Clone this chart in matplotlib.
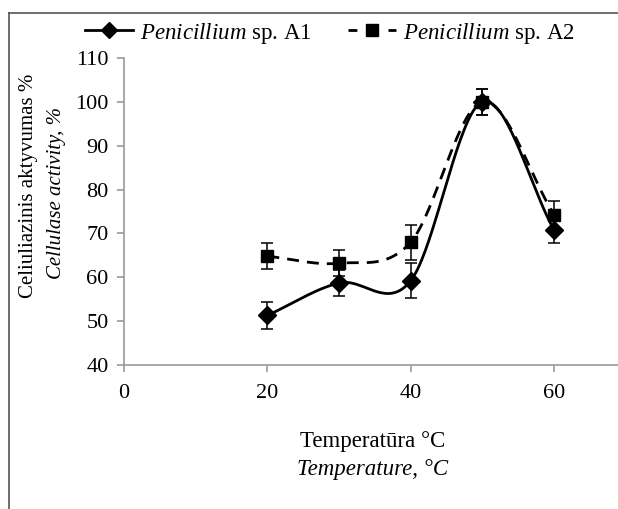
import numpy as np
import matplotlib
matplotlib.use("Agg")
import matplotlib.pyplot as plt
from matplotlib.lines import Line2D

plt.rcParams['font.family'] = ['Liberation Serif', 'DejaVu Serif']
plt.rcParams['mathtext.fontset'] = 'custom'
plt.rcParams['mathtext.rm'] = 'Liberation Serif'
plt.rcParams['mathtext.it'] = 'Liberation Serif:italic'

temps = [20, 30, 40, 50, 60]
a1 = [51.3, 58.7, 59.2, 100.0, 70.8]
a1_err = [3.0, 3.0, 4.0, 3.0, 3.0]
a2 = [64.8, 63.2, 68.0, 100.0, 74.3]
a2_err = [3.0, 3.0, 4.0, 3.0, 3.0]
xticks = [0, 20, 40, 60]
yticks = [40, 50, 60, 70, 80, 90, 100, 110]


def smooth(x, y, n=40):
    x = np.asarray(x, float); y = np.asarray(y, float)
    px = np.concatenate([[2*x[0]-x[1]], x, [2*x[-1]-x[-2]]])
    py = np.concatenate([[2*y[0]-y[1]], y, [2*y[-1]-y[-2]]])
    xs, ys = [], []
    t = np.linspace(0, 1, n)
    for i in range(1, len(px)-2):
        p0, p1, p2, p3 = px[i-1], px[i], px[i+1], px[i+2]
        q0, q1, q2, q3 = py[i-1], py[i], py[i+1], py[i+2]
        c1x = p1 + (p2-p0)/6; c2x = p2 - (p3-p1)/6
        c1y = q1 + (q2-q0)/6; c2y = q2 - (q3-q1)/6
        bx = (1-t)**3*p1 + 3*(1-t)**2*t*c1x + 3*(1-t)*t**2*c2x + t**3*p2
        by = (1-t)**3*q1 + 3*(1-t)**2*t*c1y + 3*(1-t)*t**2*c2y + t**3*q2
        xs.append(bx); ys.append(by)
    return np.concatenate(xs), np.concatenate(ys)


fig = plt.figure(figsize=(6.18, 5.09), dpi=100)
W, H = 618, 509
x0, x60 = 124, 554
xmax = 70
xright = x0 + xmax * (x60 - x0) / 60
ax = fig.add_axes([x0/W, 1-365/H, (xright-x0)/W, (365-58)/H])

x1, y1 = smooth(temps, a1)
x2, y2 = smooth(temps, a2)
ax.plot(x2, y2, color='black', lw=2.0, ls=(0, (4.3, 2.9)))
ax.plot(x1, y1, color='black', lw=2.0)
ax.errorbar(temps, a2, yerr=a2_err, fmt='s', color='black', ms=9,
            capsize=4, elinewidth=1.1, capthick=1.1)
ax.errorbar(temps, a1, yerr=a1_err, fmt='D', color='black', ms=9,
            capsize=4, elinewidth=1.1, capthick=1.1)

ax.set_xlim(0, xmax)
ax.set_ylim(40, 110)
ax.set_xticks(xticks)
ax.set_yticks(yticks)
for s in ['top', 'right']:
    ax.spines[s].set_visible(False)
for s in ['left', 'bottom']:
    ax.spines[s].set_color('#999999')
    ax.spines[s].set_linewidth(1.2)
ax.tick_params(axis='both', colors='#999999', length=5, width=1.2,
               labelcolor='black', labelsize=16)
ax.tick_params(axis='x', pad=9)
ax.tick_params(axis='y', pad=6)

fig.text(28/W, 1-186/H, 'Celiuliazinis aktyvumas %', rotation=90,
         ha='center', va='center', fontsize=15)
fig.text(56/W, 1-193/H, 'Cellulase activity, %', rotation=90,
         ha='center', va='center', fontsize=15, style='italic')

fig.text(373/W, 1-441/H, 'Temperatūra °C', ha='center', va='center', fontsize=16.5)
fig.text(373/W, 1-469/H, 'Temperature, °C', ha='center', va='center', fontsize=16.5,
         style='italic')

# outer frame (left and top edges)
fig.add_artist(Line2D([9/W, 9/W], [0, 1-13/H], color='#555555', lw=1.2))
fig.add_artist(Line2D([9/W, 1], [1-13/H, 1-13/H], color='#555555', lw=1.2))

h1 = Line2D([], [], color='black', lw=2.0, marker='D', ms=8)
h2 = Line2D([], [], color='black', lw=2.0, ls=(0, (3.2, 11.2)), marker='s', ms=8.5)
fig.legend([h1, h2], [r'$\it{Penicillium}$ sp. A1', r'$\it{Penicillium}$ sp. A2'],
           loc='center left', bbox_to_anchor=(64/W, 1-33/H), ncol=2, frameon=False,
           fontsize=16.5, handlelength=2.1, columnspacing=1.6, handletextpad=0.3)

fig.savefig('out.png', dpi=100)
